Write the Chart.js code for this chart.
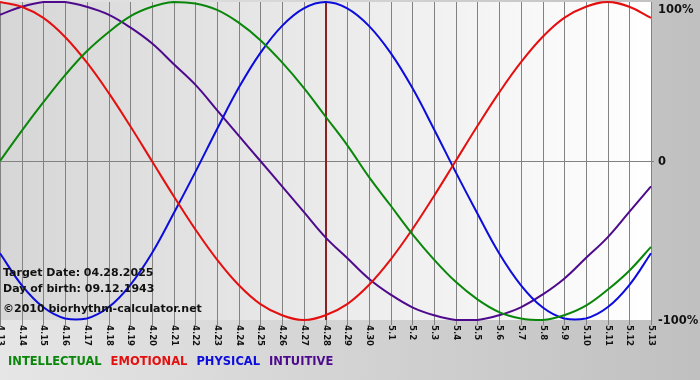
<!DOCTYPE html>
<html>
<head>
<meta charset="utf-8">
<script src="https://cdn.jsdelivr.net/npm/chart.js@4"></script>
<style>
html,body{margin:0;padding:0;background:#c8c8c8;}
#wrap{width:700px;height:380px;}
</style>
</head>
<body>
<div id="wrap"><canvas id="bio" width="700" height="380"></canvas></div>
<script>
// days shown on the x axis
const days = ["4.13","4.14","4.15","4.16","4.17","4.18","4.19","4.20","4.21","4.22","4.23","4.24","4.25","4.26","4.27","4.28","4.29","4.30",
  "5.1","5.2","5.3","5.4","5.5","5.6","5.7","5.8","5.9","5.10","5.11","5.12","5.13"];
const targetDay = "4.28";

// values in percent (one per day)
const intellectual = [0,19,37,54,69,81,91,97,100,99,95,87,76,62,46,28,10,-10,-28,-46,-62,-76,-87,-95,-99,-100,-97,-91,-81,-69,-54];
const emotional = [100,97,90,78,62,43,22,0,-22,-43,-62,-78,-90,-97,-100,-97,-90,-78,-62,-43,-22,0,22,43,62,78,90,97,100,97,90];
const physical = [-58,-78,-92,-99,-99,-92,-78,-58,-33,-7,20,46,68,85,96,100,96,85,68,46,20,-7,-33,-58,-78,-92,-99,-99,-92,-78,-58];
const intuitive = [92,97,100,100,97,92,84,74,61,48,32,16,0,-16,-32,-48,-61,-74,-84,-92,-97,-100,-100,-97,-92,-84,-74,-61,-48,-32,-16];

const yTicks = [100, 0, -100];
const yTickLabels = ["100%", "0", "-100%"];

const seriesNames = ["INTELLECTUAL","EMOTIONAL","PHYSICAL","INTUITIVE"];
const seriesColors = ["#0a870a","#e41010","#0c0cdc","#4e0a8c"];
const infoLines = ["Target Date: 04.28.2025","Day of birth: 09.12.1943","\u00a92010 biorhythm-calculator.net"];

const bioDraw = {
  id: "bioDraw",
  beforeDraw(chart){
    const {ctx, chartArea:a, width, height} = chart;
    const xs = chart.scales.x, ys = chart.scales.y;
    ctx.save();
    // page + plot backgrounds
    let g = ctx.createLinearGradient(0,0,width,0);
    g.addColorStop(0,"#e6e6e6"); g.addColorStop(1,"#c0c0c0");
    ctx.fillStyle = g; ctx.fillRect(0,0,width,height);
    g = ctx.createLinearGradient(a.left,0,a.right,0);
    g.addColorStop(0,"#d6d6d6"); g.addColorStop(1,"#ffffff");
    ctx.fillStyle = g; ctx.fillRect(a.left,a.top,a.right-a.left,a.bottom-a.top);

    // vertical grid with ticks below
    ctx.strokeStyle = "#828282"; ctx.lineWidth = 1;
    days.forEach((d,i)=>{
      const px = Math.round(xs.getPixelForValue(i)) + 0.5;
      ctx.beginPath(); ctx.moveTo(px,a.top); ctx.lineTo(px,a.bottom+5); ctx.stroke();
    });
    // zero line
    const zy = Math.round(ys.getPixelForValue(0)) + 0.5;
    ctx.beginPath(); ctx.moveTo(a.left,zy); ctx.lineTo(a.right+3,zy); ctx.stroke();

    // target day marker
    const tx = Math.round(xs.getPixelForValue(days.indexOf(targetDay)));
    ctx.strokeStyle = "#8a2222"; ctx.lineWidth = 2;
    ctx.beginPath(); ctx.moveTo(tx,a.top); ctx.lineTo(tx,a.bottom); ctx.stroke();

    // x tick labels, rotated clockwise
    ctx.fillStyle = "#111"; ctx.font = "bold 8.5px 'DejaVu Sans'";
    ctx.textAlign = "left"; ctx.textBaseline = "middle";
    days.forEach((d,i)=>{
      ctx.save();
      ctx.translate(Math.round(xs.getPixelForValue(i)) + 0.5, a.bottom+5);
      ctx.rotate(Math.PI/2);
      ctx.fillText(d,0,0);
      ctx.restore();
    });

    // y labels on the right
    ctx.font = "bold 11.5px 'DejaVu Sans'";
    yTicks.forEach((v,i)=>{
      let py = ys.getPixelForValue(v);
      py = Math.min(Math.max(py, a.top+7), a.bottom+2);
      ctx.fillText(yTickLabels[i], a.right+7, py+1);
    });
    ctx.restore();
  },
  afterDatasetsDraw(chart){
    const {ctx, chartArea:a} = chart;
    ctx.save();
    ctx.fillStyle = "#111"; ctx.font = "bold 11px 'DejaVu Sans'";
    ctx.textAlign = "left"; ctx.textBaseline = "alphabetic";
    infoLines.forEach((t,i)=>{ ctx.fillText(t, 3, a.bottom - 44 + i*16 + (i==2 ? 4 : 0)); });

    // legend as coloured words
    ctx.font = "bold 11.5px 'DejaVu Sans'";
    let lx = 8;
    seriesNames.forEach((n,i)=>{
      ctx.fillStyle = seriesColors[i];
      ctx.fillText(n, lx, a.bottom + 45);
      lx += ctx.measureText(n).width + 9;
    });
    ctx.restore();
  }
};

const mk = (label, data, color) => ({
  label, data,
  borderColor: color, backgroundColor: color,
  borderWidth: 2, pointRadius: 0, fill: false,
  tension: 0.4, clip: false
});

new Chart(document.getElementById("bio"), {
  type: "line",
  data: {
    labels: days,
    datasets: [
      mk(seriesNames[0], intellectual, seriesColors[0]),
      mk(seriesNames[1], emotional, seriesColors[1]),
      mk(seriesNames[2], physical, seriesColors[2]),
      mk(seriesNames[3], intuitive, seriesColors[3])
    ]
  },
  options: {
    responsive: false,
    animation: false,
    devicePixelRatio: 1,
    layout: { padding: { left: 0, top: 2, right: 49, bottom: 60 } },
    plugins: { legend: { display: false }, tooltip: { enabled: false } },
    scales: {
      x: { display: false },
      y: { display: false, min: -100, max: 100 }
    }
  },
  plugins: [bioDraw]
});
</script>
</body>
</html>
